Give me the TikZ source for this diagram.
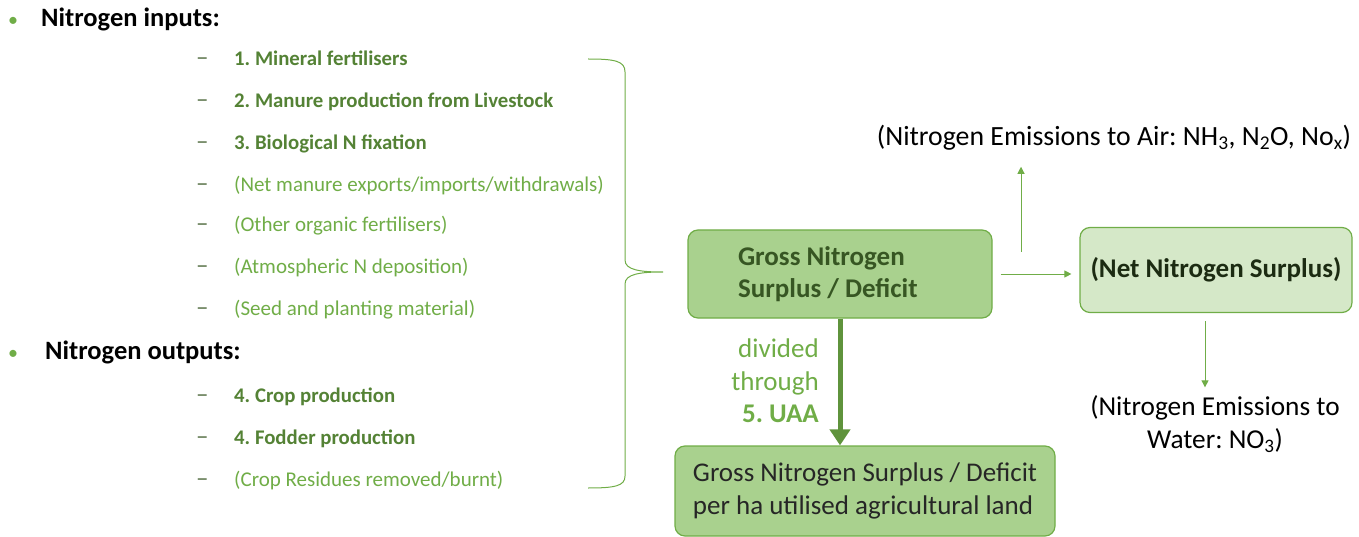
\documentclass[tikz,border=0pt]{standalone}
\usepackage{fontspec}
\setmainfont{Carlito}
\usetikzlibrary{arrows.meta,positioning,calc}
\definecolor{LeafGreen}{HTML}{70AD47}
\definecolor{LeafGreenDark}{HTML}{548235}
\definecolor{MossDark}{HTML}{375623}
\definecolor{BoxGreen}{HTML}{A9D18E}
\definecolor{BoxGreenLight}{HTML}{D5E8C8}
\frenchspacing

\begin{document}
\begin{tikzpicture}[x=1pt,y=-1pt,
      line/.style={anchor=west,inner sep=0pt,text height=0.65em,text depth=0pt,yshift=-4pt},
      head/.style={line,font=\fontsize{26.5}{30}\selectfont\bfseries},
      bullet/.style={line,text=LeafGreen,font=\fontsize{20}{24}\selectfont},
      dashmark/.style={line,text=MossDark!80,font=\fontsize{25}{28}\selectfont},
      item/.style={line,text=LeafGreen,font=\fontsize{21}{24}\selectfont},
      keyitem/.style={item,text=LeafGreenDark,font=\fontsize{20.8}{24}\selectfont\bfseries},
      gbox/.style={draw=LeafGreen,line width=1.2pt,rounded corners=10pt,align=left,
        inner sep=0pt,font=\fontsize{27}{33}\selectfont},
      note/.style={align=center,inner sep=0pt,font=\fontsize{27.8}{33}\selectfont},
      flow/.style={-{Triangle[length=7pt,width=7pt]},line width=1pt,draw=LeafGreen},
      bigflow/.style={-{Triangle[length=16pt,width=20pt]},line width=5pt,draw=LeafGreen!85!black}
    ]
      \useasboundingbox (0,0) rectangle (1359,537);
      % inputs
      \node[bullet] (b1) at (8,19) {•};
      \node[head] (inputs) at (41,19) {Nitrogen inputs:};
      \foreach \y/\txt/\st [count=\i] in {
          58/{1. Mineral fertilisers}/keyitem,
          100/{2. Manure production from Livestock}/keyitem,
          142/{3. Biological N fixation}/keyitem,
          184/{(Net manure exports/imports/withdrawals)}/item,
          224/{(Other organic fertilisers)}/item,
          266/{(Atmospheric N deposition)}/item,
          308/{(Seed and planting material)}/item}{
        \node[dashmark] (in\i d) at (196,\y) {–};
        \node[\st] (in\i) at (234,\y) {\txt};
      }
      % outputs
      \node[bullet] (b2) at (8,352) {•};
      \node[head] (outputs) at (45,352) {Nitrogen outputs:};
      \foreach \y/\txt/\st [count=\i] in {
          395/{4. Crop production}/keyitem,
          437/{4. Fodder production}/keyitem,
          479/{(Crop Residues removed/burnt)}/item}{
        \node[dashmark] (out\i d) at (196,\y) {–};
        \node[\st] (out\i) at (234,\y) {\txt};
      }
      % brace
      \coordinate (bracetop) at (588,59);
      \coordinate (bracetip) at (663,272);
      \coordinate (bracebot) at (588,488);
      \draw[LeafGreen,line width=1pt] (bracetop) .. controls (615,59) and (625,61) .. (625,72)
        -- (625,260) .. controls (625,270) and (640,272) .. (bracetip)
        (bracetip) .. controls (640,272) and (625,274) .. (625,284)
        -- (625,476) .. controls (625,486) and (615,488) .. (bracebot);
      % boxes
      \node[gbox,fill=BoxGreen,minimum width=304pt,minimum height=88pt,
        text width=204pt,align=flush left,
        text=MossDark,font=\fontsize{27}{32}\selectfont\bfseries] (gross) at (840,274)
        {Gross Nitrogen\\Surplus / Deficit};
      \node[gbox,fill=BoxGreenLight,minimum width=272pt,minimum height=85pt,
        text=MossDark!50!black,font=\fontsize{27}{32}\selectfont\bfseries] (net) at (1216,270)
        {(Net Nitrogen Surplus)};
      \node[gbox,fill=BoxGreen,minimum width=380pt,minimum height=90pt,
        text=black!85] (perha) at (865,491)
        {Gross Nitrogen Surplus / Deficit\\per ha utilised agricultural land};
      % emissions
      \node[note] (air) at (1114,138) {(Nitrogen Emissions to Air: NH\textsubscript{3}, N\textsubscript{2}O, No\textsubscript{x})};
      \node[note,font=\fontsize{27.3}{33}\selectfont] (water) at (1215,424) {(Nitrogen Emissions to\\Water: NO\textsubscript{3})};
      \node[note,anchor=east,align=right,text=LeafGreen,font=\fontsize{27}{32.5}\selectfont] (uaa) at (819,381)
        {divided\\through\\\textbf{5. UAA}};
      % connectors
      \coordinate (airfoot) at (1021,252);
      \draw[flow] ([xshift=8pt]gross.east) -- ([xshift=-8pt]gross.east -| net.west);
      \draw[flow] (airfoot) -- ([yshift=-16pt]airfoot |- air.south);
      \draw[flow] ([xshift=-11pt,yshift=-8pt]net.south) -- ([xshift=-11pt,yshift=8pt]net.south |- water.north);
      \draw[bigflow] (gross.south) -- (gross.south |- perha.north);
    \end{tikzpicture}
\end{document}
